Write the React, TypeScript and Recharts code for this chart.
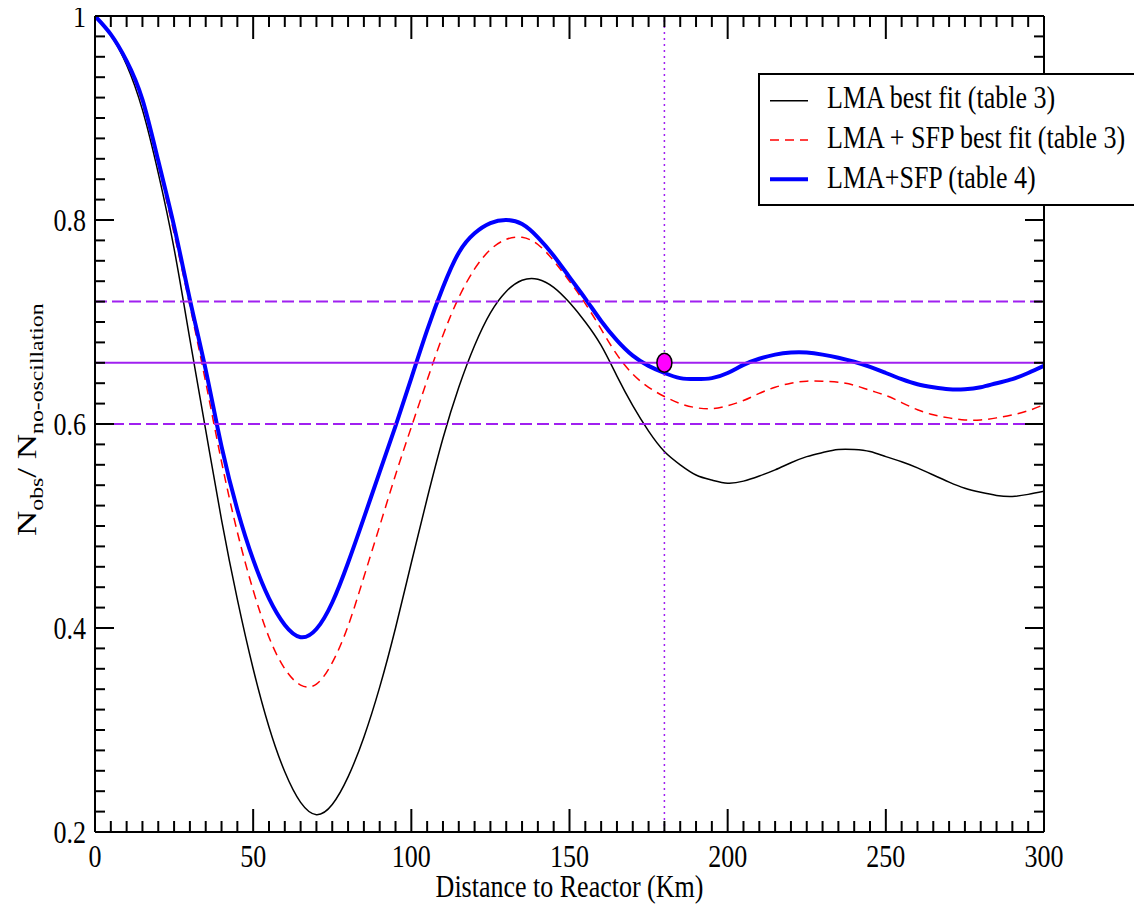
import React from 'react';
import { ComposedChart, Line, Scatter, XAxis, YAxis, ReferenceLine, Legend } from 'recharts';

// ---------- data ----------
const distanceKm = [
  0, 5, 10, 15, 20, 25, 30, 35, 40, 45, 50, 55, 60, 65, 70, 75, 80, 85, 90, 95,
  100, 105, 110, 115, 120, 125, 130, 135, 140, 145, 150, 155, 160, 165, 170, 175, 180, 185, 190, 195,
  200, 205, 210, 215, 220, 225, 230, 235, 240, 245, 250, 255, 260, 265, 270, 275, 280, 285, 290, 295, 300,
];

const lmaBestFitTable3 = [
  1.0, 0.981, 0.952, 0.908, 0.846, 0.772, 0.683, 0.594, 0.506, 0.428, 0.36, 0.303, 0.259, 0.229, 0.217, 0.227, 0.254, 0.293, 0.342, 0.4,
  0.464, 0.527, 0.586, 0.636, 0.677, 0.709, 0.73, 0.741, 0.742, 0.734, 0.719, 0.7, 0.677, 0.647, 0.618, 0.593, 0.573, 0.56, 0.55, 0.545,
  0.542, 0.544, 0.549, 0.555, 0.562, 0.568, 0.572, 0.575, 0.575, 0.573, 0.568, 0.563, 0.557, 0.55, 0.543, 0.537, 0.533, 0.53, 0.529, 0.531, 0.534,
];

const lmaSfpBestFitTable3 = [
  1.0, 0.982, 0.955, 0.914, 0.854, 0.787, 0.716, 0.641, 0.563, 0.494, 0.437, 0.391, 0.36, 0.344, 0.345, 0.366, 0.402, 0.45, 0.5, 0.55,
  0.597, 0.643, 0.687, 0.724, 0.752, 0.771, 0.781, 0.783, 0.776, 0.76, 0.74, 0.718, 0.693, 0.668, 0.649, 0.636, 0.627, 0.62, 0.616, 0.615,
  0.618, 0.623, 0.63, 0.636, 0.64, 0.642, 0.642, 0.641, 0.638, 0.633, 0.628, 0.621, 0.614, 0.609, 0.606, 0.604, 0.604, 0.606, 0.609, 0.613, 0.619,
];

const lmaSfpTable4 = [
  1.0, 0.982, 0.956, 0.918, 0.858, 0.794, 0.722, 0.653, 0.578, 0.516, 0.467, 0.429, 0.403, 0.391, 0.399, 0.425, 0.464, 0.508, 0.553, 0.598,
  0.645, 0.692, 0.734, 0.768, 0.787, 0.797, 0.8, 0.796, 0.783, 0.765, 0.744, 0.723, 0.701, 0.682, 0.667, 0.657, 0.65, 0.645, 0.644, 0.645,
  0.65, 0.658, 0.664, 0.668, 0.67, 0.67, 0.668, 0.665, 0.661, 0.656, 0.65, 0.644, 0.639, 0.636, 0.634, 0.634, 0.636, 0.64, 0.644, 0.65, 0.657,
];

const observedPoint = [{ L: 180, v: 0.66 }];
const observedRatio = 0.66;
const observedLow = 0.6;
const observedHigh = 0.72;
const observedDistance = 180;

const xMajorTicks = [0, 50, 100, 150, 200, 250, 300];
const yMajorTicks = [0.2, 0.4, 0.6, 0.8, 1];
const yMajorLabels = ['0.2', '0.4', '0.6', '0.8', '1'];
const xTicks = Array.from({ length: 61 }, (_, i) => i * 5);
const yTicks = Array.from({ length: 41 }, (_, i) => Math.round((0.2 + i * 0.02) * 100) / 100);

const seriesMeta = [
  { key: 'lma', name: 'LMA best fit (table 3)', color: '#000000', width: 1.5, dash: undefined as string | undefined },
  { key: 'sfp3', name: 'LMA + SFP best fit (table 3)', color: '#FF0000', width: 1.5, dash: '9 6' },
  { key: 'sfp4', name: 'LMA+SFP (table 4)', color: '#0000FF', width: 4, dash: undefined as string | undefined },
];

const chartData = distanceKm.map((L, i) => ({
  L,
  lma: lmaBestFitTable3[i],
  sfp3: lmaSfpBestFitTable3[i],
  sfp4: lmaSfpTable4[i],
}));

// ---------- styling helpers ----------
const FONT = "'Liberation Serif', 'Times New Roman', Times, serif";
const SY = 1.25;
const PURPLE = '#A020F0';

const isMajorX = (v: number) => xMajorTicks.includes(v);
const majorYIndex = (v: number) => yMajorTicks.findIndex((m) => Math.abs(m - v) < 1e-6);

const BottomTick = (p: any) => {
  const { x, y, payload } = p;
  const major = isMajorX(payload.value);
  return (
    <g>
      <line x1={x} x2={x} y1={y} y2={y - (major ? 23 : 11)} stroke="#000" strokeWidth={2} />
      {major && (
        <text transform={`translate(${x},${y + 35}) scale(1,${SY})`} textAnchor="middle" fontFamily={FONT} fontSize={26} fill="#000">
          {payload.value}
        </text>
      )}
    </g>
  );
};

const TopTick = (p: any) => {
  const { x, y, payload } = p;
  const major = isMajorX(payload.value);
  return <line x1={x} x2={x} y1={y} y2={y + (major ? 23 : 11)} stroke="#000" strokeWidth={2} />;
};

const LeftTick = (p: any) => {
  const { x, y, payload } = p;
  const mi = majorYIndex(payload.value);
  const major = mi >= 0;
  return (
    <g>
      <line x1={x} x2={x + (major ? 19 : 10)} y1={y} y2={y} stroke="#000" strokeWidth={2} />
      {major && (
        <text transform={`translate(${x - 9},${y + 11}) scale(1,${SY})`} textAnchor="end" fontFamily={FONT} fontSize={26} fill="#000">
          {yMajorLabels[mi]}
        </text>
      )}
    </g>
  );
};

const RightTick = (p: any) => {
  const { x, y, payload } = p;
  const major = majorYIndex(payload.value) >= 0;
  return <line x1={x} x2={x - (major ? 19 : 10)} y1={y} y2={y} stroke="#000" strokeWidth={2} />;
};

const XTitle = (p: any) => {
  const vb = p.viewBox || { x: 95, y: 832, width: 949, height: 60 };
  return (
    <text transform={`translate(${vb.x + vb.width / 2},897) scale(1,${SY})`} textAnchor="middle" fontFamily={FONT} fontSize={26} fill="#000">
      Distance to Reactor (Km)
    </text>
  );
};

const YTitle = () => (
  <text transform={`translate(36,536) scale(1,${SY}) rotate(-90)`} fontFamily={FONT} fontSize={28} fill="#000">
    N
    <tspan fontSize={19} dy={7}>obs</tspan>
    <tspan dy={-7}>/ N</tspan>
    <tspan fontSize={19} dy={7}>no-oscillation</tspan>
  </text>
);

const LegendBox = () => (
  <svg width={384} height={134} style={{ display: 'block' }}>
    <rect x={1} y={1} width={420} height={131} fill="#fff" stroke="#000" strokeWidth={2} />
    {seriesMeta.map((s, i) => {
      const cy = 27.7 + i * 39.3;
      return (
        <g key={s.key}>
          <line x1={12} x2={50} y1={cy} y2={cy} stroke={s.color} strokeWidth={s.width} strokeDasharray={s.dash} />
          <text transform={`translate(69,${35.3 + i * 40}) scale(1,${SY})`} fontFamily={FONT} fontSize={26} fill="#000">
            {s.name}
          </text>
        </g>
      );
    })}
  </svg>
);

const MarkerShape = (p: any) => (
  <ellipse cx={p.cx} cy={p.cy} rx={7.5} ry={9.5} fill="#FF00FF" stroke="#000" strokeWidth={1.5} />
);

export default function App() {
  return (
    <div style={{ marginTop: -8, marginLeft: -8, width: 1142, height: 912, position: 'relative', overflow: 'hidden', background: '#fff' }}>
      <ComposedChart width={1142} height={912} data={chartData} margin={{ top: 15, right: 97, bottom: 20, left: 0 }}>
        <XAxis
          dataKey="L"
          type="number"
          domain={[0, 300]}
          allowDataOverflow
          ticks={xTicks}
          interval={0}
          height={60}
          axisLine={{ stroke: '#000', strokeWidth: 2 }}
          tickLine={false}
          tickSize={0}
          tickMargin={0}
          tick={(p: any) => <BottomTick {...p} />}
          label={(p: any) => <XTitle {...p} />}
        />
        <XAxis
          xAxisId="top"
          orientation="top"
          dataKey="L"
          type="number"
          domain={[0, 300]}
          allowDataOverflow
          ticks={xTicks}
          interval={0}
          height={1}
          axisLine={{ stroke: '#000', strokeWidth: 2 }}
          tickLine={false}
          tickSize={0}
          tickMargin={0}
          tick={(p: any) => <TopTick {...p} />}
        />
        <YAxis
          type="number"
          domain={[0.2, 1]}
          allowDataOverflow
          ticks={yTicks}
          interval={0}
          width={95}
          axisLine={{ stroke: '#000', strokeWidth: 2 }}
          tickLine={false}
          tickSize={0}
          tickMargin={0}
          tick={(p: any) => <LeftTick {...p} />}
          label={() => <YTitle />}
        />
        <YAxis
          yAxisId="right"
          orientation="right"
          type="number"
          domain={[0.2, 1]}
          allowDataOverflow
          ticks={yTicks}
          interval={0}
          width={1}
          axisLine={{ stroke: '#000', strokeWidth: 2 }}
          tickLine={false}
          tickSize={0}
          tickMargin={0}
          tick={(p: any) => <RightTick {...p} />}
        />
        {seriesMeta.map((s) => (
          <Line
            key={s.key}
            dataKey={s.key}
            name={s.name}
            type="natural"
            stroke={s.color}
            strokeWidth={s.width}
            strokeDasharray={s.dash}
            dot={false}
            activeDot={false}
            isAnimationActive={false}
          />
        ))}
        <ReferenceLine y={observedHigh} stroke={PURPLE} strokeWidth={2} strokeDasharray="12 5" />
        <ReferenceLine y={observedLow} stroke={PURPLE} strokeWidth={2} strokeDasharray="12 5" />
        <ReferenceLine y={observedRatio} stroke={PURPLE} strokeWidth={2} />
        <ReferenceLine x={observedDistance} stroke={PURPLE} strokeWidth={1.5} strokeDasharray="2 4" />
        <Scatter
          data={observedPoint}
          dataKey="v"
          xAxisId="top"
          yAxisId="right"
          shape={(p: any) => <MarkerShape {...p} />}
          legendType="none"
          isAnimationActive={false}
        />
        <Legend
          layout="horizontal"
          verticalAlign="middle"
          align="center"
          content={() => <LegendBox />}
          wrapperStyle={{ position: 'absolute', left: 758, top: 73, width: 384, height: 134 }}
        />
      </ComposedChart>
    </div>
  );
}
